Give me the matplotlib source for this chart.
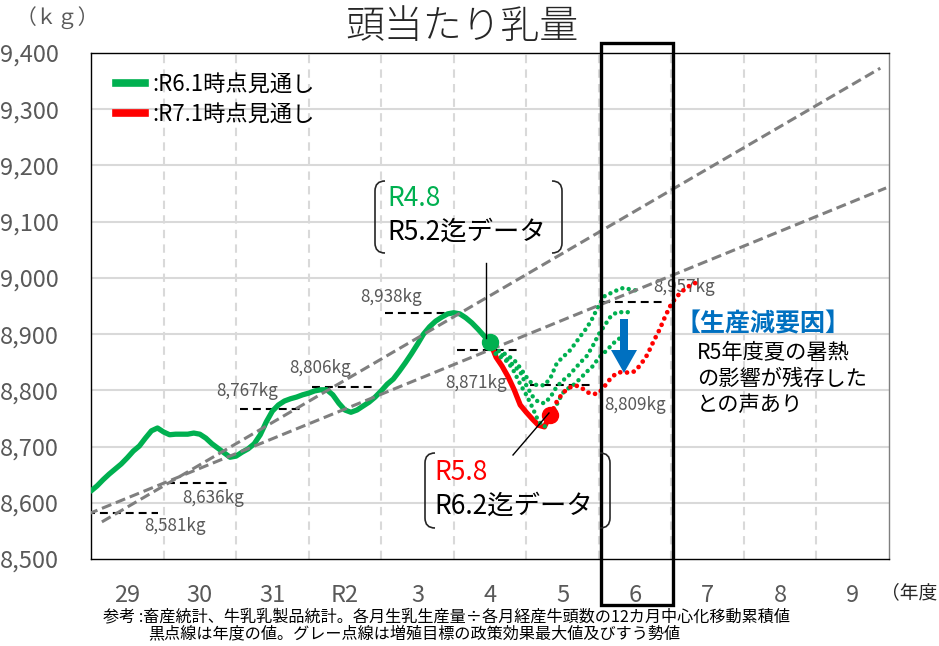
import numpy as np
import matplotlib
matplotlib.use("Agg")
import matplotlib.pyplot as plt
from matplotlib.path import Path
from matplotlib.patches import PathPatch, Rectangle, Polygon
from matplotlib.lines import Line2D

plt.rcParams['font.family'] = ['Noto Sans CJK JP', 'DejaVu Sans']

# ---------------- data ----------------
categories = ['29', '30', '31', 'R2', '3', '4', '5', '6', '7', '8', '9']
y_ticks = [8500, 8600, 8700, 8800, 8900, 9000, 9100, 9200, 9300, 9400]

# monthly 12-month centered moving values (month index 0 = start of FY29)
green_solid = [8621, 8630, 8641, 8651, 8660, 8669, 8680, 8692, 8701, 8715, 8728, 8733,
               8726, 8721, 8722, 8722, 8722, 8724, 8722, 8715, 8705, 8697, 8689, 8681,
               8683, 8690, 8696, 8705, 8721, 8744, 8763, 8774, 8781, 8785, 8788, 8792,
               8795, 8799, 8801, 8801, 8792, 8777, 8765, 8761, 8765, 8772, 8779, 8788,
               8799, 8811, 8820, 8834, 8849, 8865, 8882, 8900, 8913, 8923, 8930, 8936,
               8938, 8936, 8929, 8920, 8909, 8897, 8886]
green_start = 0
red_solid = [8886, 8859, 8843, 8824, 8801, 8774, 8761, 8749, 8738, 8735, 8757]
red_start = 66
red_dotted = [8757, 8779, 8795, 8804, 8809, 8806, 8797, 8793, 8795, 8808, 8822, 8831,
              8833, 8831, 8834, 8847, 8863, 8886, 8907, 8932, 8954, 8968, 8978, 8986, 8991]
red_dot_start = 76
green_dotted_1 = [8886, 8872, 8868, 8861, 8854, 8840, 8824, 8811, 8809, 8809, 8822, 8847,
                  8859, 8868, 8882, 8897, 8911, 8929, 8952, 8968, 8973, 8978, 8982, 8980, 8978]
green_dotted_2 = [8886, 8866, 8863, 8854, 8843, 8833, 8809, 8790, 8779, 8777, 8788, 8806,
                  8817, 8826, 8838, 8850, 8861, 8879, 8900, 8916, 8932, 8939, 8939, 8939]
green_dotted_3 = [8886, 8863, 8858, 8850, 8833, 8811, 8792, 8770, 8745, 8735, 8749, 8774,
                  8795, 8804, 8811, 8822, 8833, 8843, 8858, 8868, 8879, 8890, 8895]
green_dot_start = 66

# fiscal-year values (black dashed) for 29 .. R6
year_vals = [8581, 8636, 8767, 8806, 8938, 8871, 8809, 8957]
year_labels = ['8,581kg', '8,636kg', '8,767kg', '8,806kg', '8,938kg', '8,871kg', '8,809kg', '8,957kg']

# grey dashed lines: policy max / trend (x in year index units)
policy_x = [-0.35, 10.38]
policy_y = [8566, 9373]
trend_x = [-0.54, 10.46]
trend_y = [8580, 9160]

# ---------------- figure ----------------
W, H = 939, 646
fig = plt.figure(figsize=(W / 100, H / 100), dpi=100)
ax = fig.add_axes([91 / W, 1 - 559 / H, 798 / W, 506 / H])

def mx(start, n):
    return -0.5 + (start + np.arange(n)) / 12.0

GREEN = '#00B050'
RED = '#FF0000'
GRAY_T = '#595959'

# grid
for yv in y_ticks[1:-1]:
    ax.axhline(yv, color='#D9D9D9', lw=1.5, zorder=0)
for xb in np.arange(len(categories) - 1) + 0.5:
    ax.axvline(xb, color='#D9D9D9', lw=1.5, ls=(0, (4, 3)), zorder=0)

# black dashed year values
for i, v in enumerate(year_vals):
    x0 = i - 0.55 if i == 0 else i - 0.45
    ax.plot([x0, i + 0.43], [v, v], color='black', lw=1.5, ls=(0, (3.8, 2.4)), zorder=2)

label_offsets = [(48, -13), (13, -15), (-25, 18), (-25, 19), (-26, 16), (-14, -33), (73, -20), (49, 15)]
for i, (v, lab) in enumerate(zip(year_vals, year_labels)):
    dx, dy = label_offsets[i]
    ax.annotate(lab, (i, v), xytext=(dx, dy), textcoords='offset pixels',
                ha='center', va='center', fontsize=12.3, color=GRAY_T, zorder=3)

# series
ax.plot(mx(green_start, len(green_solid)), green_solid, color=GREEN, lw=3.8,
        solid_capstyle='round', solid_joinstyle='round', zorder=4)
ax.plot(mx(red_start, len(red_solid)), red_solid, color=RED, lw=3.8,
        solid_capstyle='round', solid_joinstyle='round', zorder=4)
dot_ls = (0, (0.01, 1.45))
for g in (green_dotted_1, green_dotted_2, green_dotted_3):
    ax.plot(mx(green_dot_start, len(g)), g, color=GREEN, lw=3.2, ls=dot_ls,
            dash_capstyle='round', zorder=4)
ax.plot(mx(red_dot_start, len(red_dotted)), red_dotted, color=RED, lw=3.4, ls=dot_ls,
        dash_capstyle='round', zorder=4)

# grey trend lines
ax.plot(policy_x, policy_y, color='#7F7F7F', lw=2.2, ls=(0, (3.3, 1.6)), zorder=5)
ax.plot(trend_x, trend_y, color='#7F7F7F', lw=2.2, ls=(0, (3.3, 1.6)), zorder=5)

# end dots
gx = mx(green_start, len(green_solid))[-1]
ax.plot([gx], [green_solid[-1]], 'o', color=GREEN, ms=11.5, zorder=6)
rx = mx(red_start, len(red_solid))[-1]
ax.plot([rx], [red_solid[-1]], 'o', color=RED, ms=11.5, zorder=6)

ax.set_xlim(-0.5, len(categories) - 0.5)
ax.set_ylim(8500, 9400)
ax.set_xticks(range(len(categories)))
ax.set_xticklabels(categories)
ax.set_yticks(y_ticks)
ax.set_yticklabels([f'{v:,}' for v in y_ticks])
ax.tick_params(length=0, labelsize=17, colors=GRAY_T, pad=0)
ax.tick_params(axis='y', pad=23)
ax.tick_params(axis='x', pad=18)
for s in ax.spines.values():
    s.set_color('black')
    s.set_linewidth(1.0)
ax.spines['right'].set_color('#7F7F7F')

# legend
handles = [Line2D([], [], color=GREEN, lw=5.5), Line2D([], [], color=RED, lw=5.5)]
ax.legend(handles, [':R6.1時点見通し', ':R7.1時点見通し'], loc='upper left',
          bbox_to_anchor=(0.031, 0.96), frameon=False, fontsize=16,
          handlelength=1.3, handletextpad=0.35, borderpad=0, borderaxespad=0,
          labelspacing=0.28)

# ---------------- overlay (pixel coordinates) ----------------
ov = fig.add_axes([0, 0, 1, 1], zorder=10)
ov.set_xlim(0, W)
ov.set_ylim(H, 0)
ov.axis('off')

ov.text(462, 27, '頭当たり乳量', ha='center', va='center', fontsize=28,
        color='#262626', fontweight='light')
ov.text(57, 18, '（ｋｇ）', ha='center', va='center', fontsize=15, color=GRAY_T)
ov.text(881, 593, '（年度', ha='left', va='center', fontsize=13.5, color='#262626')
ov.text(103, 617, '参考 :畜産統計、牛乳乳製品統計。各月生乳生産量÷各月経産牛頭数の12カ月中心化移動累積値',
        ha='left', va='center', fontsize=11.6, color='black')
ov.text(148, 634, '黒点線は年度の値。グレー点線は増殖目標の政策効果最大値及びすう勢値',
        ha='left', va='center', fontsize=11.6, color='black')

# highlight rectangle around year 6
ov.add_patch(Rectangle((601, 43), 72, 562, fill=False, ec='black', lw=2.4))

def brackets(x0, y0, x1, y1, r=10):
    for xs, sgn in ((x0, 1), (x1, -1)):
        verts = [(xs + sgn * r, y0), (xs, y0), (xs, y0 + r), (xs, y1 - r), (xs, y1), (xs + sgn * r, y1)]
        codes = [Path.MOVETO, Path.CURVE3, Path.CURVE3, Path.LINETO, Path.CURVE3, Path.CURVE3]
        ov.add_patch(PathPatch(Path(verts, codes), fill=False, ec='#262626', lw=1.2))

brackets(375, 181, 562, 253)
ov.text(387, 199, 'R4.8', ha='left', va='center', fontsize=19, color=GREEN)
ov.text(387, 232, 'R5.2迄データ', ha='left', va='center', fontsize=19, color='black')
ov.plot([486, 486], [263, 338], color='black', lw=1.0)

brackets(425, 453, 610, 528)
ov.text(434, 472, 'R5.8', ha='left', va='center', fontsize=19, color=RED)
ov.text(434, 506, 'R6.2迄データ', ha='left', va='center', fontsize=19, color='black')
ov.plot([513, 549], [455, 413], color='black', lw=1.0)

# blue arrow
ov.add_patch(Polygon([(620, 319), (628, 319), (628, 350), (637, 350), (624, 373),
                      (611, 350), (620, 350)], closed=True, fc='#0070C0', ec='none'))
ov.text(676, 324, '【生産減要因】', ha='left', va='center', fontsize=18,
        color='#0070C0', fontweight='bold')
for k, line in enumerate(['R5年度夏の暑熱', 'の影響が残存した', 'との声あり']):
    ov.text(697, 353 + 26 * k, line, ha='left', va='center', fontsize=15.3, color='black')

fig.savefig('out.png', dpi=100)
